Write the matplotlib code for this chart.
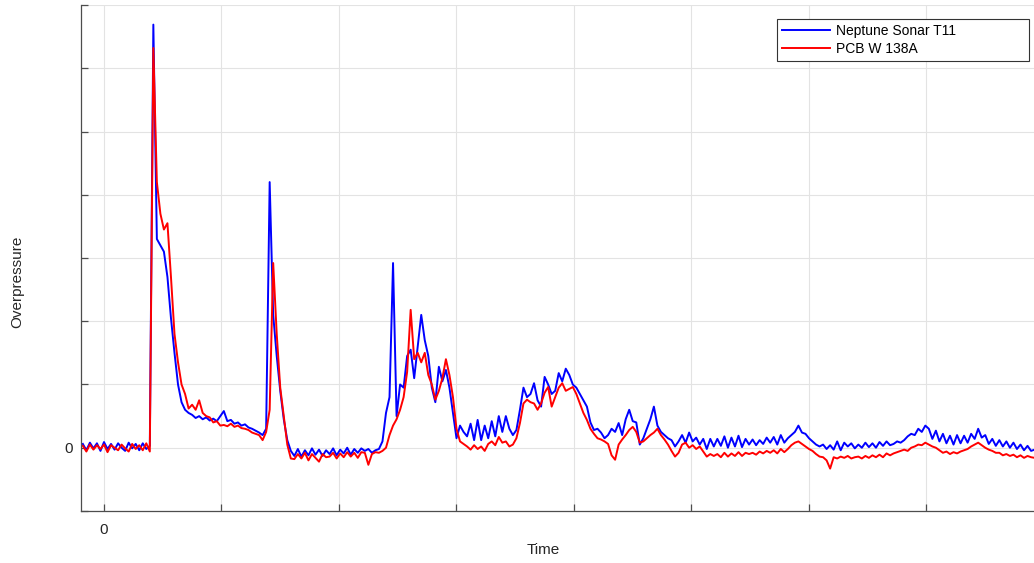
import matplotlib
matplotlib.use("Agg")
import matplotlib.pyplot as plt
import numpy as np

# sampling of the traces (time units, one tick = 1)
time_start = -0.18
time_step = 0.03

neptune_t11 = [
    0.06, -0.04, 0.08, -0.01, 0.07, -0.05, 0.09, -0.02, 0.06, -0.03,
    0.07, 0.0, -0.05, 0.08, -0.01, 0.06, -0.04, 0.07, -0.02, 0.03,
    6.69, 3.3, 3.2, 3.1, 2.7, 2.05, 1.5, 1.0, 0.72, 0.6,
    0.55, 0.52, 0.47, 0.5, 0.45, 0.48, 0.43, 0.46, 0.42, 0.5,
    0.58, 0.42, 0.44, 0.38, 0.4, 0.35, 0.37, 0.32, 0.3, 0.27,
    0.24, 0.2, 0.3, 4.2, 2.1, 1.45, 0.9, 0.45, 0.12, -0.05,
    -0.13, -0.02, -0.14, -0.04, -0.12, -0.01, -0.11, -0.03, -0.13, -0.04,
    -0.1, -0.01, -0.12, -0.03, -0.09, 0.0, -0.11, -0.02, -0.08, -0.01,
    -0.05, -0.02, -0.08, -0.04, -0.02, 0.1, 0.55, 0.8, 2.92, 0.5,
    1.0, 0.95, 1.45, 1.55, 1.1, 1.6, 2.1, 1.7, 1.45, 0.95,
    0.72, 1.28, 1.05, 1.23, 0.95, 0.55, 0.15, 0.35, 0.25, 0.18,
    0.38, 0.12, 0.44, 0.12, 0.35, 0.15, 0.42, 0.18, 0.5, 0.25,
    0.5, 0.3, 0.2, 0.28, 0.6, 0.95, 0.8, 0.85, 1.02, 0.75,
    0.65, 1.12, 1.0, 0.85, 0.9, 1.18, 1.05, 1.25, 1.15, 1.0,
    0.95, 0.85, 0.75, 0.65, 0.4, 0.28, 0.3, 0.24, 0.15, 0.2,
    0.3, 0.25, 0.39, 0.2, 0.45, 0.6, 0.42, 0.4, 0.05, 0.15,
    0.3, 0.45, 0.65, 0.35, 0.25, 0.2, 0.15, 0.12, 0.02, 0.1,
    0.2, 0.08, 0.24, 0.1, 0.16, 0.05, 0.14, -0.02, 0.14, 0.02,
    0.14, 0.03, 0.18, 0.0, 0.16, 0.02, 0.19, 0.01, 0.14, 0.05,
    0.13, 0.04, 0.12, 0.06, 0.16, 0.08, 0.17, 0.05, 0.2, 0.08,
    0.15, 0.2, 0.25, 0.35, 0.24, 0.22, 0.15, 0.1, 0.05, 0.02,
    0.05, -0.02, 0.04, -0.03, 0.1, -0.04, 0.08, 0.02, 0.07, -0.01,
    0.05, 0.0, 0.08, 0.01, 0.07, 0.0, 0.09, 0.03, 0.1, 0.04,
    0.06, 0.1, 0.08, 0.12, 0.18, 0.22, 0.2, 0.3, 0.25, 0.35,
    0.3, 0.14, 0.27, 0.1, 0.22, 0.07, 0.19, 0.05, 0.2, 0.07,
    0.19, 0.08, 0.22, 0.14, 0.3, 0.16, 0.2, 0.06, 0.14, 0.03,
    0.12, 0.02, 0.1, 0.0, 0.08, -0.02, 0.05, -0.04, 0.03, -0.05,
    -0.03,
]

pcb_w138a = [
    0.03, -0.06, 0.05, -0.03, 0.04, -0.02, 0.05, -0.07, 0.04, 0.0,
    -0.04, 0.05, -0.01, -0.06, 0.06, -0.02, 0.04, -0.04, 0.07, -0.06,
    6.32, 4.2, 3.7, 3.45, 3.55, 2.7, 1.8, 1.35, 1.0, 0.85,
    0.62, 0.68, 0.6, 0.75, 0.55, 0.5, 0.48, 0.4, 0.42, 0.35,
    0.36, 0.34, 0.38, 0.33, 0.35, 0.31, 0.3, 0.28, 0.24, 0.22,
    0.2, 0.12, 0.25, 0.6, 2.92, 1.8, 0.95, 0.5, 0.05, -0.17,
    -0.18, -0.1, -0.17, -0.08, -0.2, -0.1, -0.16, -0.22, -0.1, -0.15,
    -0.14, -0.08, -0.17, -0.09, -0.15, -0.07, -0.14, -0.08, -0.16, -0.07,
    -0.08, -0.27, -0.1, -0.07, -0.08, -0.05, 0.0, 0.2, 0.35, 0.45,
    0.6, 0.8, 1.2, 2.18, 1.4, 1.5, 1.35, 1.5, 1.15, 1.0,
    0.76, 0.9, 1.1, 1.4, 1.15, 0.8, 0.3, 0.1, 0.06, 0.02,
    -0.03, 0.04, -0.02, 0.02, -0.05, 0.06, 0.1, 0.04, 0.17, 0.08,
    0.1, 0.02, 0.05, 0.15, 0.39, 0.7, 0.76, 0.72, 0.7, 0.6,
    0.7, 0.87, 0.96, 0.65, 0.8, 0.95, 1.02, 0.9, 0.93, 0.96,
    0.85, 0.7, 0.55, 0.44, 0.3, 0.22, 0.15, 0.13, 0.1, 0.06,
    -0.12, -0.19, 0.05, 0.13, 0.2, 0.28, 0.33, 0.25, 0.08, 0.1,
    0.15, 0.2, 0.24, 0.3, 0.2, 0.13, 0.05, -0.05, -0.14, -0.08,
    0.05, 0.08, 0.0, 0.04, -0.02, 0.02, -0.06, -0.14, -0.1, -0.13,
    -0.1, -0.15, -0.08, -0.14, -0.09, -0.13, -0.07, -0.13, -0.08, -0.1,
    -0.08, -0.11, -0.06, -0.09, -0.05, -0.08, -0.04, -0.09, -0.02, -0.07,
    -0.02, 0.04, 0.08, 0.1, 0.06, 0.02, -0.02, -0.05, -0.1, -0.14,
    -0.15, -0.2, -0.33, -0.15, -0.17, -0.14, -0.16, -0.13, -0.17, -0.15,
    -0.14, -0.17, -0.13, -0.16, -0.12, -0.15, -0.11, -0.15, -0.09, -0.12,
    -0.09, -0.07, -0.05, -0.03, -0.05, 0.0, 0.02, 0.05, 0.04, 0.08,
    0.05, 0.02, 0.0, -0.04, -0.08, -0.06, -0.1, -0.07, -0.09, -0.06,
    -0.04, -0.02, 0.02, 0.05, 0.08, 0.04, 0.0, -0.03, -0.05, -0.08,
    -0.08, -0.12, -0.1, -0.13, -0.11, -0.15, -0.12, -0.16, -0.13, -0.15,
    -0.16,
]

x_ticks = [0, 1, 2, 3, 4, 5, 6, 7]
x_tick_labels = ["0", "", "", "", "", "", "", ""]
y_ticks = [-1, 0, 1, 2, 3, 4, 5, 6, 7]
y_tick_labels = ["", "0", "", "", "", "", "", "", ""]

plt.rcParams["font.family"] = ["Liberation Sans", "DejaVu Sans"]

time = time_start + time_step * np.arange(len(neptune_t11))

fig = plt.figure(figsize=(10.34, 5.63), dpi=100)
ax = fig.add_axes([0.0783, 0.0924, 0.9217, 0.8987])

ax.plot(time, neptune_t11, color="#0000ff", lw=1.4, label="Neptune Sonar T11")
ax.plot(time, pcb_w138a, color="#ff0000", lw=1.4, label="PCB W 138A")

ax.set_xlim(-0.196, 7.915)
ax.set_ylim(-1, 7)
ax.set_xticks(x_ticks)
ax.set_xticklabels(x_tick_labels)
ax.set_yticks(y_ticks)
ax.set_yticklabels(y_tick_labels)

ax.grid(True, color="#e3e3e3", lw=0.8)
ax.set_axisbelow(True)
for side in ["top", "right"]:
    ax.spines[side].set_visible(False)
for side in ["left", "bottom"]:
    ax.spines[side].set_color("#4d4d4d")
    ax.spines[side].set_linewidth(0.9)
ax.tick_params(direction="in", length=5, width=0.9, color="#4d4d4d",
               labelsize=11, labelcolor="#262626")
ax.tick_params(axis="x", pad=9)
ax.tick_params(axis="y", pad=6)

ax.set_xlabel("Time", fontsize=11, color="#262626")
ax.set_ylabel("Overpressure", fontsize=11, color="#262626")
ax.xaxis.set_label_coords(0.4848, -0.063)
ax.yaxis.set_label_coords(-0.06, 0.4526)

leg = ax.legend(loc="upper left", bbox_to_anchor=(0.7303, 0.8854, 0.2645, 0.0869),
                mode="expand", borderaxespad=0, fontsize=10, fancybox=False,
                framealpha=1, edgecolor="#333333", handlelength=3.5,
                handletextpad=0.4, labelspacing=0.3, borderpad=0.35)
leg.get_frame().set_linewidth(0.8)

fig.savefig("out.png", dpi=100)
